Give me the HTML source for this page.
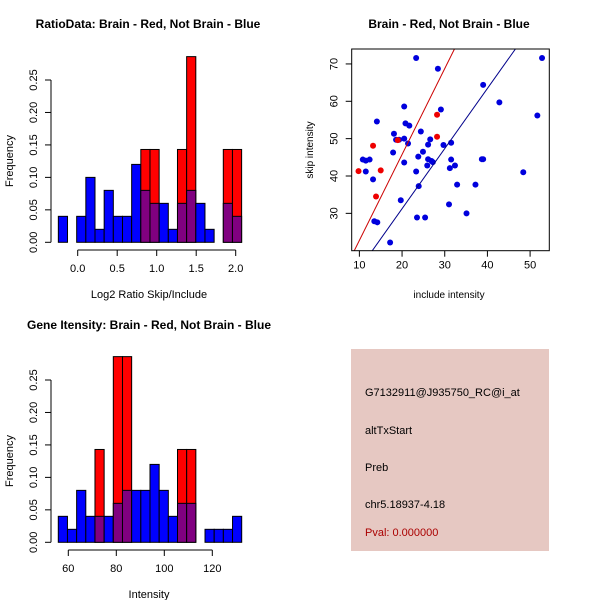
<!DOCTYPE html>
<html><head><meta charset="utf-8"><style>
html,body{margin:0;padding:0;background:#fff;}
svg{display:block;font-family:"Liberation Sans",sans-serif;}
</style></head><body>
<svg id="c" width="600" height="600" viewBox="0 0 600 600" xmlns="http://www.w3.org/2000/svg">
<rect width="600" height="600" fill="#fff"/>
<text x="148" y="28" font-size="12" font-weight="bold" text-anchor="middle">RatioData: Brain - Red, Not Brain - Blue</text>
<text x="449" y="28" font-size="12" font-weight="bold" text-anchor="middle">Brain - Red, Not Brain - Blue</text>
<text x="149" y="329" font-size="12" font-weight="bold" text-anchor="middle">Gene Itensity: Brain - Red, Not Brain - Blue</text>
<g id="g1"></g>
<g id="g2"></g>
<g id="g3"></g>
<g>
<rect x="351" y="349" width="198" height="202" fill="#e6c8c2"/>
<text x="365" y="396" font-size="11">G7132911@J935750_RC@i_at</text>
<text x="365" y="434" font-size="11">altTxStart</text>
<text x="365" y="471" font-size="11">Preb</text>
<text x="365" y="508" font-size="11">chr5.18937-4.18</text>
<text x="365" y="536" font-size="11" fill="#aa0000">Pval: 0.000000</text>
</g>
</svg>
<script>
const ratioBlue=[0.04,0,0.04,0.10,0.02,0.08,0.04,0.04,0.12,0.08,0.06,0.06,0.02,0.06,0.08,0.06,0.02,0,0.06,0.04];
const ratioRed=[0,0,0,0,0,0,0,0,0,0.143,0.143,0,0,0.143,0.286,0,0,0,0.143,0.143];
const ratioXTicks=[0.0,0.5,1.0,1.5,2.0];
const ratioXTickLabels=["0.0","0.5","1.0","1.5","2.0"];
const intBlue=[0.04,0.02,0.08,0.04,0.04,0.04,0.06,0.08,0.08,0.08,0.12,0.08,0.04,0.06,0.06,0,0.02,0.02,0.02,0.04];
const intRed=[0,0,0,0,0.143,0,0.286,0.286,0,0,0,0,0,0.143,0.143,0,0,0,0,0];
const intXTicks=[60,80,100,120];
const intXTickLabels=["60","80","100","120"];
const freqTicks=[0,0.05,0.10,0.15,0.20,0.25];
const freqTickLabels=["0.00","0.05","0.10","0.15","0.20","0.25"];
const blueX=[23.3,28.4,52.8,39,42.8,51.7,20.5,29.1,14.1,20.8,21.7,24.4,18.1,18.6,19.3,20.5,26.6,31.5,21.4,26.1,29.7,24.9,17.9,23.8,10.8,11.5,12.4,26.1,31.5,38.7,39.0,20.5,26.9,27.2,25.9,32.4,31.2,11.5,23.3,48.4,13.2,23.9,32.9,37.2,19.7,31.0,35.1,13.5,14.2,23.5,25.4,17.2];
const blueY=[71.6,68.7,71.6,64.4,59.7,56.2,58.6,57.8,54.6,54.1,53.5,51.9,51.3,49.7,49.7,50.0,49.8,48.9,48.7,48.4,48.3,46.5,46.3,45.2,44.4,44.1,44.4,44.5,44.4,44.5,44.5,43.6,44.0,43.7,42.8,42.8,42.1,41.2,41.2,41.0,39.1,37.3,37.7,37.7,33.5,32.4,30.0,27.9,27.6,28.9,28.9,22.2];
const redX=[9.8,13.2,15.0,13.9,28.2,28.2,19.0];
const redY=[41.3,48.1,41.5,34.5,56.4,50.5,49.6];
const fitSlope=[2.3,1.61];
const fitIntercept=[-0.24,-0.96];
const scXTicks=[10,20,30,40,50];
const scYTicks=[30,40,50,60,70];

const NS="http://www.w3.org/2000/svg";
function mk(parent,tag,attrs){const e=document.createElementNS(NS,tag);for(const k in attrs)e.setAttribute(k,attrs[k]);parent.appendChild(e);return e;}

function hist(g,blue,red,xTicks,xLabels,xA,pxA,xB,pxB,binStart,binW,xlab,top){
  const x=v=>pxA+(v-xA)*(pxB-pxA)/(xB-xA);
  const y=v=>top+202.3-v*(162.3/0.25);
  for(let i=0;i<blue.length;i++){
    const x0=x(binStart+i*binW),x1=x(binStart+(i+1)*binW);
    const b=blue[i],r=red[i];
    if(b>0&&r==0){const e=mk(g,'rect',{x:x0,y:y(b),width:x1-x0,height:y(0)-y(b),fill:'#0000ff',stroke:'#000','stroke-width':1});
      }
    if(r>0){const e=mk(g,'rect',{x:x0,y:y(r),width:x1-x0,height:y(0)-y(r),fill:'#ff0000',stroke:'#000','stroke-width':1});
      
      if(b>0){const p=mk(g,'rect',{x:x0,y:y(Math.min(b,r)),width:x1-x0,height:y(0)-y(Math.min(b,r)),fill:'#800080',stroke:'#000','stroke-width':1});
        }}
  }
  mk(g,'line',{x1:51,y1:y(0),x2:51,y2:y(0.25),stroke:'#000'});
  freqTicks.forEach((t,i)=>{mk(g,'line',{x1:45,y1:y(t),x2:51,y2:y(t),stroke:'#000'});
    const tx=mk(g,'text',{x:37,y:y(t),'font-size':11,'text-anchor':'middle',transform:`rotate(-90 37 ${y(t)})`});tx.textContent=freqTickLabels[i];
    });
  const xa=top+210;
  mk(g,'line',{x1:x(xTicks[0]),y1:xa,x2:x(xTicks[xTicks.length-1]),y2:xa,stroke:'#000'});
  xTicks.forEach((t,i)=>{mk(g,'line',{x1:x(t),y1:xa,x2:x(t),y2:xa+6,stroke:'#000'});
    const tx=mk(g,'text',{x:x(t),y:xa+22,'font-size':11,'text-anchor':'middle'});tx.textContent=xLabels[i];
    });
  const yl=mk(g,'text',{x:13,y:top+121,'font-size':11,'text-anchor':'middle',transform:`rotate(-90 13 ${top+121})`});yl.textContent='Frequency';
  
  const xl=mk(g,'text',{x:149,y:top+258,'font-size':11,'text-anchor':'middle'});xl.textContent=xlab;
  
}
hist(document.getElementById('g1'),ratioBlue,ratioRed,ratioXTicks,ratioXTickLabels,0,77.7,2,235.7,-0.245,0.116,'Log2 Ratio Skip/Include',40);
hist(document.getElementById('g3'),intBlue,intRed,intXTicks,intXTickLabels,60,68.3,120,212.3,55.83,3.821,'Intensity',340);

(function(){
  const g=document.getElementById('g2');
  const L=351.7,R=549.3,T=49,B=250.7,xmin=8.2,xmax=54.5,ymin=20,ymax=74;
  const x=v=>L+(v-xmin)*(R-L)/(xmax-xmin), y=v=>B-(v-ymin)*(B-T)/(ymax-ymin);
  mk(g,'clipPath',{id:'cp'}).appendChild(document.createElementNS(NS,'rect'));
  const cr=g.querySelector('#cp rect');cr.setAttribute('x',L);cr.setAttribute('y',T);cr.setAttribute('width',R-L);cr.setAttribute('height',B-T);
  blueX.forEach((v,i)=>{const c=mk(g,'circle',{cx:x(v),cy:y(blueY[i]),r:3,fill:'#0000dd'});
    });
  redX.forEach((v,i)=>{const c=mk(g,'circle',{cx:x(v),cy:y(redY[i]),r:3,fill:'#ee0000'});
    });
  const cols=['#cc0000','#00008b'];
  fitSlope.forEach((s,i)=>{const a=fitIntercept[i];
    const l=mk(g,'line',{x1:x(xmin),y1:y(a+s*xmin),x2:x(xmax),y2:y(a+s*xmax),stroke:cols[i],'stroke-width':1,'clip-path':'url(#cp)'});
    });
  const box=mk(g,'rect',{x:L,y:T,width:R-L,height:B-T,fill:'none',stroke:'#000'});
  
  scXTicks.forEach(t=>{mk(g,'line',{x1:x(t),y1:B,x2:x(t),y2:B+6,stroke:'#000'});
    const tx=mk(g,'text',{x:x(t),y:B+18,'font-size':11,'text-anchor':'middle'});tx.textContent=t;
    });
  scYTicks.forEach(t=>{mk(g,'line',{x1:L-6,y1:y(t),x2:L,y2:y(t),stroke:'#000'});
    const tx=mk(g,'text',{x:L-14,y:y(t),'font-size':11,'text-anchor':'middle',transform:`rotate(-90 ${L-14} ${y(t)})`});tx.textContent=t;
    });
  const xl=mk(g,'text',{x:449,y:298,'font-size':10,'text-anchor':'middle'});xl.textContent='include intensity';
  
  const yl=mk(g,'text',{x:313,y:150,'font-size':10,'text-anchor':'middle',transform:'rotate(-90 313 150)'});yl.textContent='skip intensity';
  
})();
</script>
</body></html>
